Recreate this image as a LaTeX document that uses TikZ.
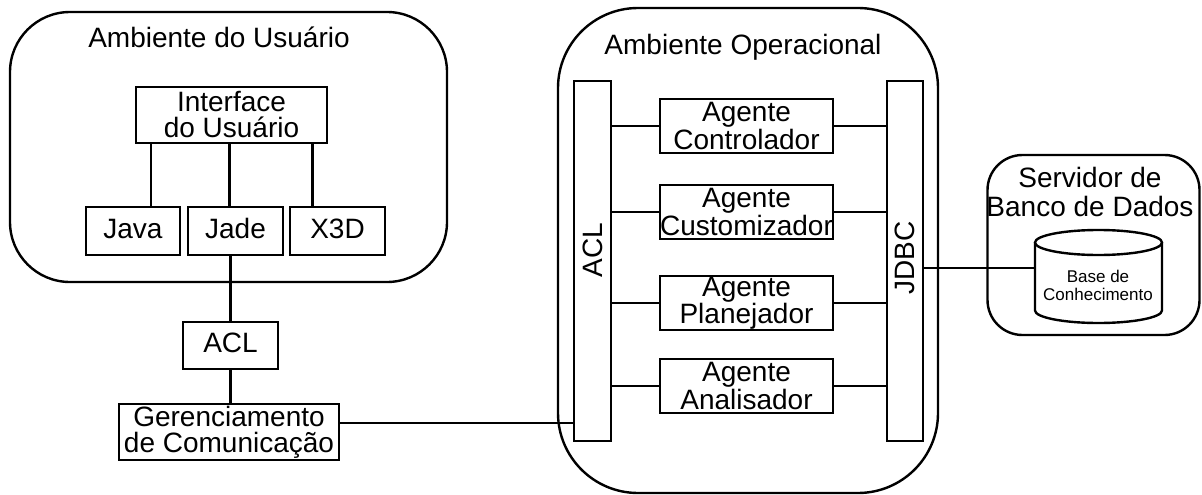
\documentclass[tikz,border=0pt]{standalone}
\usepackage{fontspec}
\setmainfont{Liberation Sans}
\usetikzlibrary{calc}
\begin{document}
\begin{tikzpicture}[x=1pt,y=-1pt,
  lw/.style={line width=2.4pt},
  box/.style={draw, lw, inner sep=0pt, outer sep=0pt, align=center,
    font=\fontsize{28}{26}\selectfont},
  oneline/.style={text height=20pt, text depth=6pt},
  env/.style={draw, lw, inner sep=0pt, outer sep=0pt},
  lbl/.style={inner sep=0pt, align=center, font=\fontsize{28}{29}\selectfont},
  small/.style={inner sep=0pt, align=center, font=\fontsize{17}{18}\selectfont},
  conn/.style={lw}]
\useasboundingbox (0,0) rectangle (1202,495);

% user environment
\node[env, rounded corners=60pt, minimum width=437pt, minimum height=270pt] (userenv) at (228.5,147) {};
\node[lbl] (usertitle) at (219,37) {Ambiente do Usuário};
\node[box, minimum width=191pt, minimum height=56pt] (iface) at (231.5,115) {Interface\\do Usuário};
\node[box, oneline, minimum width=94pt, minimum height=48pt] (java) at (133,231) {Java};
\node[box, oneline, minimum width=95pt, minimum height=48pt] (jade) at (235.5,231) {Jade};
\node[box, oneline, minimum width=95pt, minimum height=48pt] (x3d) at (337.5,231) {X3D};
\coordinate (c1) at ($(java.north)+(18,0)$);
\coordinate (c2) at ($(jade.north)+(-6,0)$);
\coordinate (c3) at ($(x3d.north)+(-25,0)$);
\draw[conn] (c1) -- (c1 |- iface.south);
\draw[conn] (c2) -- (c2 |- iface.south);
\draw[conn] (c3) -- (c3 |- iface.south);

\node[box, oneline, minimum width=95pt, minimum height=47pt] (acl) at (230.5,345.5) {ACL};
\node[box, minimum width=220pt, minimum height=56pt] (ger) at (229,432) {Gerenciamento\\de Comunicação};
\draw[conn] (acl.north) -- (acl.north |- jade.south);
\draw[conn] (acl.south) -- (acl.south |- ger.north);

% operational environment
\node[env, rounded corners=80pt, minimum width=380pt, minimum height=485pt] (openv) at (748,250.5) {};
\node[lbl] (optitle) at (743,47) {Ambiente Operacional};
\node[env, minimum width=37pt, minimum height=360pt] (aclbar) at (592.5,261) {};
\node[lbl, rotate=90] (acltext) at (592.5,250) {ACL};
\node[env, minimum width=36pt, minimum height=360pt] (jdbc) at (905,261) {};
\node[lbl, rotate=90] (jdbctext) at (905,258) {JDBC};

\node[box, minimum width=173pt, minimum height=54pt] (ag1) at (746.5,126) {Agente\\Controlador};
\node[box, minimum width=173pt, minimum height=54pt] (ag2) at (746.5,212) {Agente\\Customizador};
\node[box, minimum width=173pt, minimum height=54pt] (ag3) at (746.5,303) {Agente\\Planejador};
\node[box, minimum width=173pt, minimum height=54pt] (ag4) at (746.5,386) {Agente\\Analisador};
\foreach \a in {ag1,ag2,ag3,ag4}{
  \draw[conn] (\a.west) -- (\a.west -| aclbar.east);
  \draw[conn] (\a.east) -- (\a.east -| jdbc.west);
}
\coordinate (g1) at ($(ger.east)+(0,-9)$);
\draw[conn] (g1) -- (g1 -| aclbar.west);

% database server
\node[env, rounded corners=35pt, minimum width=212pt, minimum height=180pt] (dbenv) at (1093.5,245) {};
\node[lbl] (dbtitle) at (1090,192) {Servidor de\\Banco de Dados};
\draw[lw] (1098.5,242.5) ellipse [x radius=63.5, y radius=12.5];
\draw[lw] (1035,242.5) -- (1035,310.5) arc[start angle=180, end angle=0, x radius=63.5, y radius=12.5] -- (1162,242.5);
\node[small] (kb) at (1098,285) {Base de\\Conhecimento};
\coordinate (cylL) at (1035,268);
\draw[conn] (cylL) -- (cylL -| jdbc.east);
\end{tikzpicture}
\end{document}
